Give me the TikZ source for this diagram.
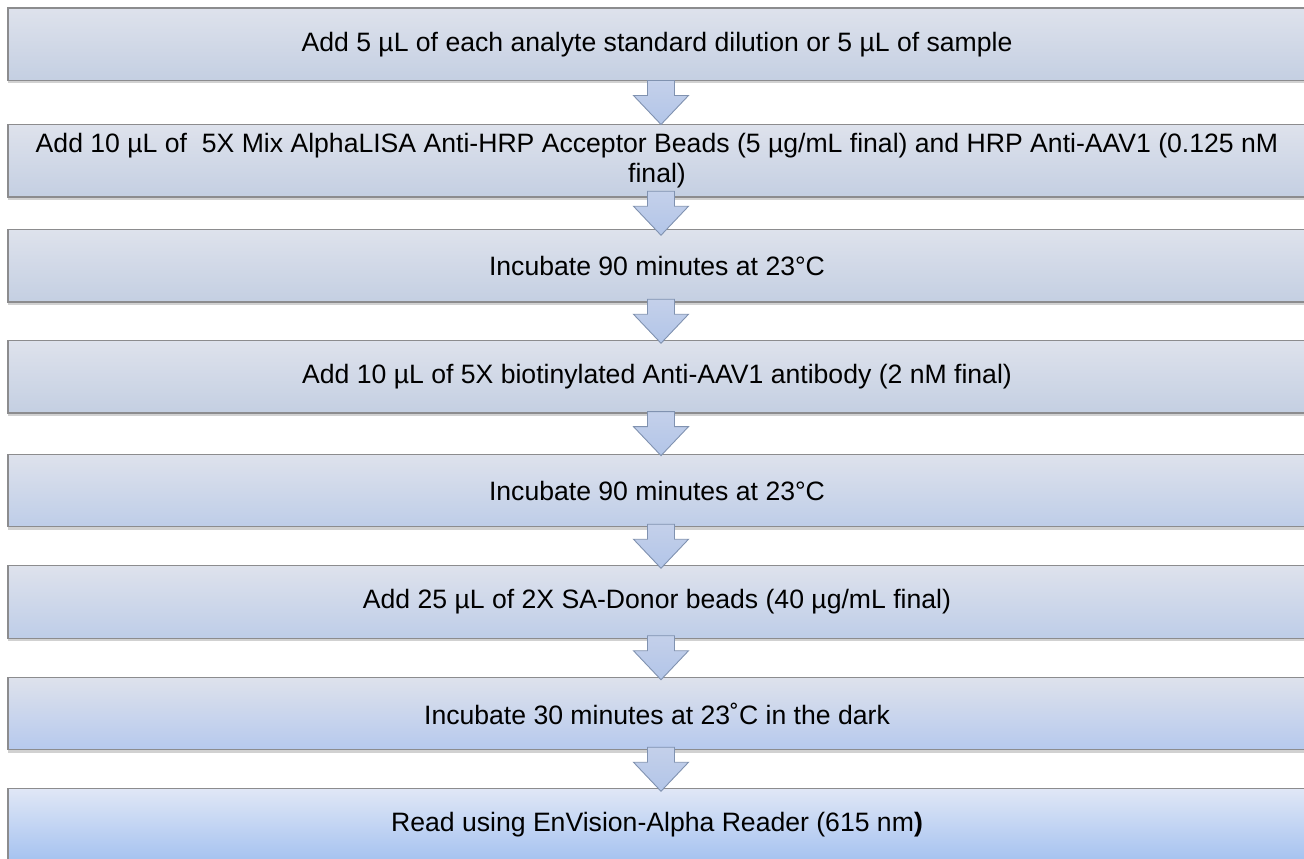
\documentclass[tikz,border=0pt]{standalone}
\usepackage{fontspec}
\setmainfont{Liberation Sans}
\usetikzlibrary{calc,shadows}

% box edge and fills
\definecolor{edge}{RGB}{140,140,142}
\definecolor{toplight}{RGB}{222,226,236}
\definecolor{botgray}{RGB}{196,207,226}
\definecolor{botmid}{RGB}{190,205,232}
\definecolor{botblue}{RGB}{182,201,237}
\definecolor{lasttop}{RGB}{224,231,246}
\definecolor{lastbot}{RGB}{165,194,240}
% arrow colours
\definecolor{arrowedge}{RGB}{128,146,176}
\definecolor{arrowtop}{RGB}{196,208,234}
\definecolor{arrowbot}{RGB}{178,197,232}

\tikzset{
  stepbox/.style={rectangle, draw=edge, line width=1.3pt,
    minimum width=1298pt, minimum height=72.5pt, inner sep=0pt,
    align=center, font=\fontsize{26.6}{30}\selectfont,
    top color=toplight, bottom color=botgray,
    drop shadow={shadow xshift=0pt, shadow yshift=-3pt, opacity=0.18, fill=black}},
  flowarrow/.style={draw=arrowedge, line width=0.9pt,
    top color=arrowtop, bottom color=arrowbot, line join=miter}
}

% block arrow centred in the gap between two steps
\newcommand\steparrow[2]{%
  \coordinate (m) at ($(#1.south)!0.5!(#2.north)$);
  \draw[flowarrow, shift={(m)}, xshift=4pt]
    (-13.5,-22) -- (13.5,-22) -- (13.5,-7) -- (27.5,-7) -- (0,22)
    -- (-27.5,-7) -- (-13.5,-7) -- cycle;}

\begin{document}
\begin{tikzpicture}[x=1pt,y=-1pt]
\useasboundingbox (0,0) rectangle (1304,859);
\clip (0,0) rectangle (1304,859);

\node[stepbox] (s1) at (657,44.25)
  {Add 5 µL of each analyte standard dilution or 5 µL of sample};
\node[stepbox] (s2) at (657,160.75)
  {Add 10 µL of~ 5X Mix AlphaLISA Anti-HRP Acceptor Beads (5 µg/mL final) and HRP Anti-AAV1 (0.125 nM\\ final)};
\node[stepbox] (s3) at (657,265.75) {Incubate 90 minutes at 23°C};
\node[stepbox] (s4) at (657,376.75)
  {Add 10 µL of 5X biotinylated Anti-AAV1 antibody (2 nM final)};
\node[stepbox, bottom color=botmid] (s5) at (657,490.5) {Incubate 90 minutes at 23°C};
\node[stepbox, bottom color=botmid] (s6) at (657,602)
  {Add 25 µL of 2X SA-Donor beads (40 µg/mL final)};
\node[stepbox, bottom color=botblue] (s7) at (657,713.5)
  {Incubate 30 minutes at 23˚C in the dark};
\node[stepbox, top color=lasttop, bottom color=lastbot] (s8) at (657,825)
  {Read using EnVision-Alpha Reader (615 nm{\bfseries )}};

\steparrow{s1}{s2}
\steparrow{s2}{s3}
\steparrow{s3}{s4}
\steparrow{s4}{s5}
\steparrow{s5}{s6}
\steparrow{s6}{s7}
\steparrow{s7}{s8}
\end{tikzpicture}
\end{document}
